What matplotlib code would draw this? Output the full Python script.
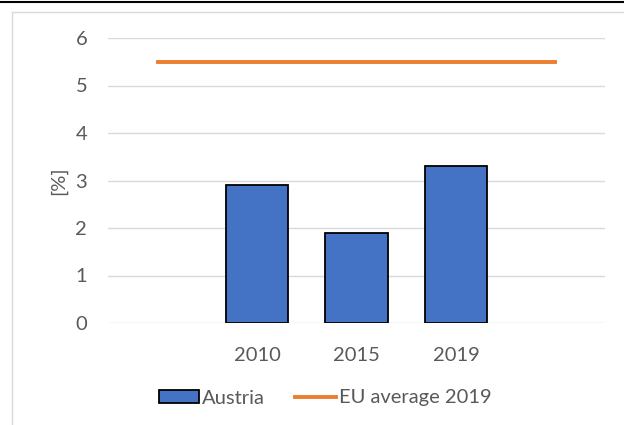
import matplotlib.pyplot as plt
from matplotlib.lines import Line2D
from matplotlib.patches import Patch

categories = ["", "2010", "2015", "2019", ""]
austria = [None, 2.9, 1.9, 3.3, None]
eu_average = 5.5

plt.rcParams['font.family'] = ['Lato', 'DejaVu Sans']
grey_text = '#595959'
fs = 14.5

fig = plt.figure(figsize=(6.24, 4.25), dpi=100)
ax = fig.add_axes([108/624, 1-323/425, 497/624, 285/425])

x = list(range(len(categories)))
bx = [i for i, v in enumerate(austria) if v is not None]
bv = [v for v in austria if v is not None]
ax.bar(bx, bv, width=0.63, color='#4472C4', edgecolor='black', linewidth=1.3, zorder=3)
ax.plot([x[0], x[-1]], [eu_average, eu_average], color='#ED7D31', linewidth=2.8, zorder=4)

ax.set_xlim(-0.5, len(categories) - 0.5)
ax.set_ylim(0, 6)
ax.set_yticks(range(0, 7))
ax.set_xticks(x)
ax.set_xticklabels(categories)
ax.grid(axis='y', color='#D9D9D9', linewidth=1, zorder=0)
for s in ax.spines.values():
    s.set_visible(False)
ax.tick_params(length=0, labelsize=fs, colors=grey_text)
ax.tick_params(axis='y', pad=15)
ax.tick_params(axis='x', pad=17)
ax.set_ylabel('[%]', fontsize=fs, color=grey_text, labelpad=6)

handles = [Patch(facecolor='#4472C4', edgecolor='black', linewidth=1.3),
           Line2D([], [], color='#ED7D31', linewidth=2.8)]
fig.legend(handles, ['Austria', 'EU average 2019'], loc='center',
           bbox_to_anchor=(325/624, 1-398/425), ncol=2, frameon=False,
           fontsize=fs, labelcolor=grey_text, handlelength=2.0,
           handleheight=0.6, handletextpad=0.15, columnspacing=1.5)

# outer frame lines
fig.add_artist(Line2D([0, 1], [1-2/425, 1-2/425], color='black', linewidth=1.5))
fig.add_artist(Line2D([12/624, 1], [1-12/425, 1-12/425], color='#D9D9D9', linewidth=1))
fig.add_artist(Line2D([12/624, 12/624], [0, 1-12/425], color='#D9D9D9', linewidth=1))

fig.savefig('out.png', dpi=100)
